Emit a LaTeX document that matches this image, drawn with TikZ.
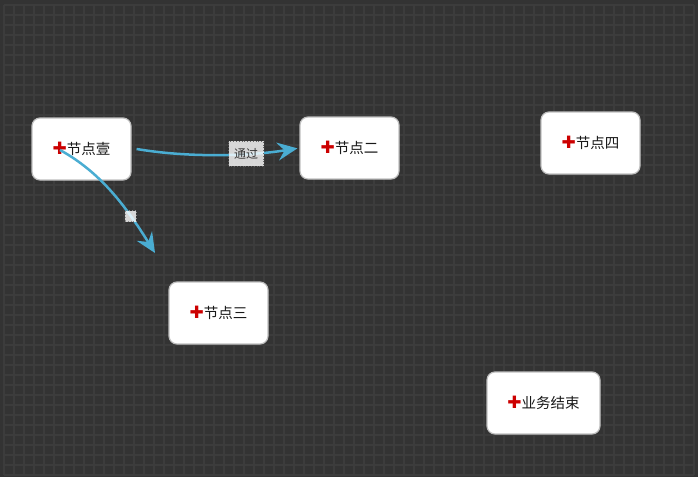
\documentclass[tikz,border=0pt]{standalone}
\usepackage{fontspec}
\newfontfamily\cjk{Noto Sans CJK SC}
\newfontfamily\symb{DejaVu Sans}
\usetikzlibrary{arrows.meta}
\definecolor{canvasbg}{HTML}{333333}
\definecolor{gridcol}{HTML}{3C3C3C}
\definecolor{flowblue}{HTML}{4AADD2}
\definecolor{crossred}{HTML}{CC0000}
\newcommand{\stepname}[1]{{\symb\fontsize{17}{17}\selectfont\textcolor{crossred}{✚}}#1}
\tikzset{
  stepnode/.style={rectangle, rounded corners=8pt, fill=white, draw=black!25, line width=1.2pt,
    minimum width=99pt, minimum height=62pt, inner sep=2pt, text=black!90,
    font=\cjk\fontsize{14.5}{16}\selectfont},
  flow/.style={draw=flowblue, line width=2.5pt, -{Stealth[length=20pt, width=18pt, inset=7pt]}},
  passlabel/.style={fill=white, fill opacity=0.8, text opacity=1, draw=black!60, dotted,
    line width=0.8pt, minimum width=35pt, minimum height=25pt, inner sep=1pt, text=black!80,
    font=\cjk\fontsize{12}{13}\selectfont},
  dotlabel/.style={fill=white, fill opacity=0.8, draw=black!45, dotted, line width=0.8pt,
    minimum size=11pt, inner sep=0pt}
}
\begin{document}
\begin{tikzpicture}[x=1pt, y=-1pt]

\fill[canvasbg] (0,0) rectangle (698,477);
\draw[gridcol, line width=1.5pt, xshift=4pt, yshift=-5pt] (0,0) grid[step=10pt] (690,470);
\useasboundingbox (0,0) rectangle (698,477);

\node[stepnode] (n1) at (81.5,149) {\stepname{节点壹}};
\node[stepnode] (n2) at (349.5,148) {\stepname{节点二}};
\node[stepnode] (n3) at (218.5,313) {\stepname{节点三}};
\node[stepnode] (n4) at (590.5,143) {\stepname{节点四}};
\node[stepnode, minimum width=113pt] (n5) at (543.5,403) {\stepname{业务结束}};

\coordinate (c1) at (60,150);
\coordinate (e2) at (155,253);

\draw[flow, shorten >=2pt] ([xshift=5pt]n1.east) .. controls (190,158) and (250,156) .. node[pos=0.66, passlabel] (l1) {通过} (n2.west);
\draw[flow] (c1) .. controls (100,172) and (125,205) .. node[pos=0.72, dotlabel] (l2) {} (e2);
\end{tikzpicture}
\end{document}
